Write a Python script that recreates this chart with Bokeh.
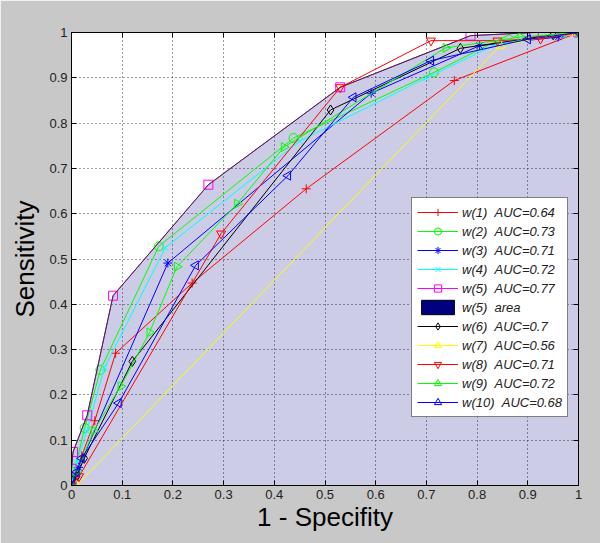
import numpy as np
from bokeh.plotting import figure
from bokeh.models import (Range1d, FixedTicker, LinearAxis, Legend, LegendItem)
from bokeh.embed import file_html
from bokeh.resources import INLINE

# ---- data ----
tick_values = [0, 0.1, 0.2, 0.3, 0.4, 0.5, 0.6, 0.7, 0.8, 0.9, 1]
tick_labels = ["0", "0.1", "0.2", "0.3", "0.4", "0.5", "0.6", "0.7", "0.8", "0.9", "1"]

w1_x = [0, 0.005, 0.02, 0.046, 0.087, 0.238, 0.463, 0.755, 1]
w1_y = [0, 0.02, 0.065, 0.143, 0.292, 0.447, 0.655, 0.894, 1]

w2_x = [0, 0.005, 0.026, 0.057, 0.172, 0.438, 0.715, 0.872, 0.97, 1]
w2_y = [0, 0.03, 0.127, 0.255, 0.528, 0.767, 0.912, 1.0, 1.0, 1]

w3_x = [0, 0.005, 0.014, 0.19, 0.591, 0.805, 0.96, 1]
w3_y = [0, 0.02, 0.04, 0.491, 0.866, 0.971, 0.99, 1]

w4_x = [0, 0.01, 0.03, 0.065, 0.185, 0.45, 0.70, 0.84, 0.97, 1]
w4_y = [0, 0.05, 0.12, 0.26, 0.525, 0.76, 0.90, 0.975, 0.995, 1]

w5_x = [0, 0, 0.003, 0.031, 0.082, 0.27, 0.53, 0.787, 0.912, 1]
w5_y = [0, 0.037, 0.074, 0.155, 0.419, 0.664, 0.879, 0.993, 1.0, 1]

w6_x = [0, 0.01, 0.025, 0.12, 0.511, 0.767, 0.95, 1]
w6_y = [0, 0.02, 0.06, 0.274, 0.829, 0.965, 0.995, 1]

w7_x = [0, 0.01, 0.846, 0.98, 1]
w7_y = [0, 0, 0.971, 1, 1]

w8_x = [0, 0.015, 0.295, 0.53, 0.709, 0.84, 0.925, 1]
w8_y = [0, 0.02, 0.556, 0.879, 0.982, 0.982, 0.986, 1]

w9_x = [0, 0.01, 0.044, 0.097, 0.154, 0.208, 0.327, 0.419, 0.738, 0.886, 1]
w9_y = [0, 0.03, 0.121, 0.219, 0.338, 0.483, 0.622, 0.747, 0.966, 0.99, 1]

w10_x = [0, 0.01, 0.02, 0.093, 0.245, 0.427, 0.556, 0.709, 0.9, 1]
w10_y = [0, 0.03, 0.06, 0.182, 0.486, 0.684, 0.857, 0.938, 0.985, 1]

labels = ["w(1)\u00a0\u00a0AUC=0.64", "w(2)\u00a0\u00a0AUC=0.73", "w(3)\u00a0\u00a0AUC=0.71",
          "w(4)\u00a0\u00a0AUC=0.72", "w(5)\u00a0\u00a0AUC=0.77", "w(5)\u00a0\u00a0area",
          "w(6)\u00a0\u00a0AUC=0.7", "w(7)\u00a0\u00a0AUC=0.56", "w(8)\u00a0\u00a0AUC=0.71",
          "w(9)\u00a0\u00a0AUC=0.72", "w(10)\u00a0\u00a0AUC=0.68"]

FONT = "Liberation Sans"

p = figure(width=600, height=543, output_backend="svg", toolbar_location=None,
           x_range=Range1d(0, 1), y_range=Range1d(0, 1),
           min_border_left=71, min_border_right=22, min_border_top=32, min_border_bottom=58)
p.border_fill_color = "#c8c8c8"
p.background_fill_color = "white"
p.outline_line_color = "black"
p.outline_line_width = 1

# axes
for ax in (p.xaxis[0], p.yaxis[0]):
    ax.ticker = FixedTicker(ticks=tick_values)
    ax.major_label_overrides = {v: l for v, l in zip(tick_values, tick_labels)}
    ax.major_tick_in = 5
    ax.major_tick_out = 0
    ax.minor_tick_line_color = None
    ax.axis_line_color = "black"
    ax.major_tick_line_color = "black"
    ax.major_label_text_font = FONT
    ax.major_label_text_font_size = "13px"
    ax.major_label_text_color = "#222222"
    ax.axis_label_text_font = FONT
    ax.axis_label_text_font_size = "26px"
    ax.axis_label_text_font_style = "normal"
    ax.axis_label_text_color = "black"
p.xaxis[0].axis_label = "1 - Specifity"
p.yaxis[0].axis_label = "Sensitivity"
p.xaxis[0].major_label_standoff = 4
p.xaxis[0].axis_label_standoff = 0
p.yaxis[0].major_label_standoff = 4
p.yaxis[0].axis_label_standoff = 6

for loc in ("above", "right"):
    ax = LinearAxis(ticker=FixedTicker(ticks=tick_values),
                    major_label_overrides={v: "" for v in tick_values},
                    major_tick_in=5, major_tick_out=0, minor_tick_line_color=None,
                    major_label_standoff=0, axis_line_color="black")
    p.add_layout(ax, loc)

p.xgrid.ticker = FixedTicker(ticks=tick_values)
p.ygrid.ticker = FixedTicker(ticks=tick_values)
p.grid.grid_line_color = "#222222"
p.grid.grid_line_dash = "1 3"
p.grid.grid_line_alpha = 0.9

# area under w(5)
area_x = w5_x + [1]
area_y = w5_y + [0]
p.patch(area_x, area_y, fill_color="#000080", fill_alpha=0.2, line_color=None)
area_legend = p.patch(area_x, area_y, fill_color="#000080", fill_alpha=1,
                      line_color="black", line_width=1, visible=False)

series = [
    (w1_x, w1_y, "#ff0000", "cross", 0),
    (w2_x, w2_y, "#00ff00", "circle", 0),
    (w3_x, w3_y, "#0000ff", "asterisk", 0),
    (w4_x, w4_y, "#00ffff", "x", 0),
    (w5_x, w5_y, "#ff00ff", "square", 0),
    (w6_x, w6_y, "#000000", "diamond", 0),
    (w7_x, w7_y, "#ffff00", "triangle", 0),
    (w8_x, w8_y, "#ff0000", "inverted_triangle", 0),
    (w9_x, w9_y, "#00ff00", "triangle", -np.pi / 2),
    (w10_x, w10_y, "#0000ff", "triangle", np.pi / 2),
]

rends = []
for i, (xs, ys, col, mk, ang) in enumerate(series):
    lr = p.line(xs, ys, line_color=col, line_width=1)
    size = 10 if mk in ("diamond",) else 9
    sr = p.scatter(xs, ys, marker=mk, size=size, angle=ang, line_color=col,
                   fill_color=None, line_width=1)
    rends.append([lr, sr])
    if i == 4:
        # outline of the area (dark edge)
        p.line(area_x[:-1], area_y[:-1], line_color="#333333", line_width=1)

items = []
for i in range(5):
    items.append(LegendItem(label=labels[i], renderers=rends[i]))
items.append(LegendItem(label=labels[5], renderers=[area_legend]))
for i in range(5, 10):
    items.append(LegendItem(label=labels[i + 1], renderers=rends[i]))

legend = Legend(items=items, location=(340, 68),
                label_text_font=FONT, label_text_font_style="italic",
                label_text_font_size="13px", label_text_color="#222222",
                glyph_width=41, glyph_height=18, label_height=14, spacing=1,
                padding=5, margin=0, label_standoff=4,
                inactive_fill_alpha=0,
                border_line_color="black", border_line_width=1,
                background_fill_color="white", background_fill_alpha=1)
p.add_layout(legend)

open("out.html", "w").write(file_html(p, INLINE))
